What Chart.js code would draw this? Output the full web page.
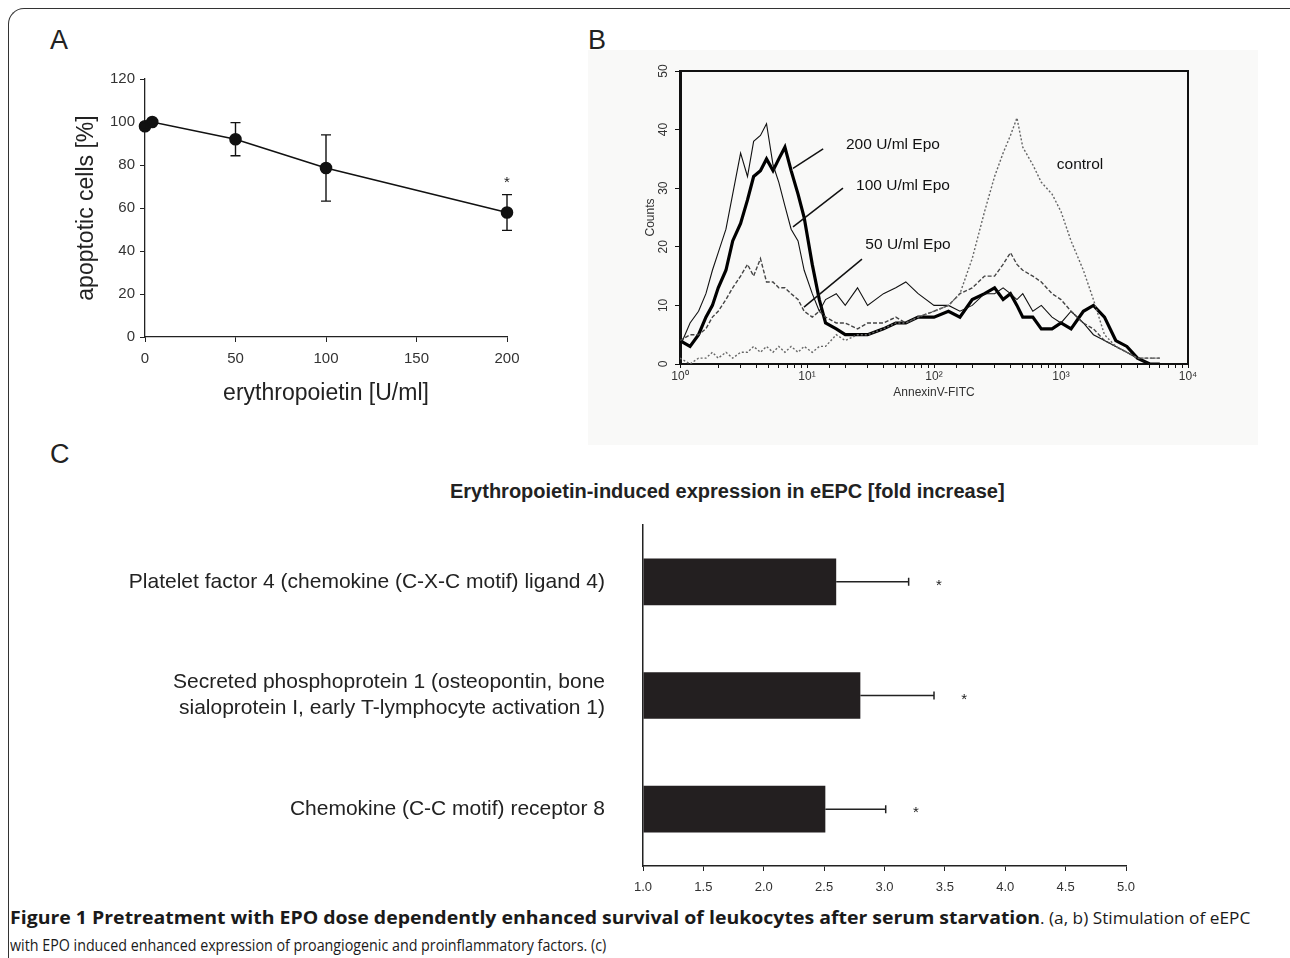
<!DOCTYPE html>
<html>
<head>
<meta charset="utf-8">
<script src="https://cdn.jsdelivr.net/npm/chart.js@4.4.0/dist/chart.umd.min.js"></script>
<style>
  body { margin: 0; width: 1290px; height: 958px; background: #fff; position: relative; overflow: hidden;
         font-family: "Liberation Sans", Arial, sans-serif; color: #222; }
  .frame { position: absolute; left: 8px; top: 8px; width: 1320px; height: 1000px;
           border-left: 1.5px solid #333; border-top: 1.5px solid #333; border-top-left-radius: 16px; }
  .lbl { position: absolute; font-size: 27px; line-height: 1; }
  .bgB { position: absolute; left: 588px; top: 50px; width: 670px; height: 395px; background: #f9f9f8; }
  canvas { position: absolute; }
  #titleC { position: absolute; left: 450px; top: 480px; white-space: nowrap;
            font-weight: bold; font-size: 20px; }
  .cap { position: absolute; white-space: nowrap; font-family: "Open Sans", sans-serif; font-size: 17px;
         line-height: 24px; transform-origin: 0 0; color: #1a1a1a; }
</style>
</head>
<body>
<div class="frame"></div>
<div class="bgB"></div>
<div class="lbl" style="left:50px;top:27px">A</div>
<div class="lbl" style="left:588px;top:27px">B</div>
<div class="lbl" style="left:50px;top:441px">C</div>

<canvas id="ca" width="520" height="370" style="left:20px;top:50px"></canvas>
<canvas id="cb" width="640" height="360" style="left:600px;top:55px"></canvas>
<div id="titleC">Erythropoietin-induced expression in eEPC [fold increase]</div>
<canvas id="cc" width="1060" height="400" style="left:100px;top:500px"></canvas>

<div class="cap" data-w="1030" style="left:10px;top:906px;font-weight:bold">Figure 1 Pretreatment with EPO dose dependently enhanced survival of leukocytes after serum starvation</div>
<div class="cap" data-w="210" style="left:1040px;top:906px">. (a, b) Stimulation of eEPC</div>
<div class="cap" data-w="596" style="left:10px;top:933px">with EPO induced enhanced expression of proangiogenic and proinflammatory factors. (c)</div>

<script>
// panel A: dose response
const doses = [0, 4, 50, 100, 200];
const apoptotic = [98, 100, 92, 78.6, 57.9];
const apoptoticSd = [1.5, 1, 7.7, 15.4, 8.3];

// panel B: AnnexinV-FITC histograms (bin centre, counts)
const bins = [1, 1.2, 1.4, 1.6, 1.8, 2, 2.3, 2.6, 3, 3.4, 3.8, 4.3, 4.8, 5.4, 6, 6.7, 7.5, 8.5, 9.5, 11,
  12.5, 14, 17, 20, 25, 30, 40, 50, 60, 75, 100, 130, 160, 200, 250, 300, 350, 400, 450, 500,
  600, 700, 850, 1000, 1200, 1500, 1800, 2200, 2700, 3300, 4000, 5000, 6000];
const epo200 = [4, 3, 5, 8, 10, 13, 16, 21, 24, 28, 32, 33, 35, 33, 35, 37, 33, 29, 25, 17,
  11, 7, 6, 5, 5, 5, 6, 7, 7, 8, 8, 9, 8, 11, 12, 13, 11, 12, 10, 8,
  8, 6, 6, 7, 6, 9, 10, 8, 4, 3, 1, 0, 0];
const epo100 = [3, 7, 9, 12, 16, 19, 23, 29, 36, 32, 38, 39, 41, 34, 31, 27, 23, 21, 16, 12,
  9, 11, 12, 10, 13, 10, 12, 13, 14, 12, 10, 10, 9, 10, 12, 12, 13, 12, 11, 12,
  9, 10, 8, 7, 9, 7, 5, 4, 3, 2, 1, 0, 0];
const epo50 = [4, 5, 5, 6, 8, 9, 11, 13, 15, 17, 15, 18, 14, 14, 13, 13, 12, 11, 9, 8,
  9, 8, 7, 7, 6, 7, 7, 8, 7, 8, 9, 10, 12, 13, 15, 15, 17, 19, 17, 16,
  15, 14, 12, 11, 9, 7, 6, 4, 3, 2, 1, 1, 1];
const control = [1, 0, 1, 1, 2, 1, 2, 1, 2, 2, 3, 2, 3, 2, 3, 2, 3, 2, 3, 2,
  3, 3, 5, 4, 5, 5, 6, 7, 7, 8, 9, 10, 12, 18, 26, 32, 36, 39, 42, 37,
  34, 31, 29, 26, 21, 16, 11, 5, 3, 2, 1, 1, 1];

// panel C: fold increase
const genes = [
  'Platelet factor 4 (chemokine (C-X-C motif) ligand 4)',
  ['Secreted phosphoprotein 1 (osteopontin, bone', 'sialoprotein I, early T-lymphocyte activation 1)'],
  'Chemokine (C-C motif) receptor 8'
];
const fold = [2.6, 2.8, 2.51];
const foldErr = [0.6, 0.61, 0.5];

Chart.defaults.font.family = '"Liberation Sans", Arial, sans-serif';
Chart.defaults.color = '#222';

const ink = '#222';
const supDigits = ['⁰', '¹', '²', '³', '⁴'];

// ---------- A ----------
const errBarsA = {
  id: 'errBarsA',
  afterDatasetsDraw(chart) {
    const { ctx, scales: { x, y } } = chart;
    ctx.save();
    ctx.strokeStyle = '#111';
    ctx.lineWidth = 1.4;
    doses.forEach((d, i) => {
      const px = x.getPixelForValue(d);
      const top = y.getPixelForValue(apoptotic[i] + apoptoticSd[i]);
      const bot = y.getPixelForValue(apoptotic[i] - apoptoticSd[i]);
      ctx.beginPath();
      ctx.moveTo(px, top); ctx.lineTo(px, bot);
      ctx.moveTo(px - 5, top); ctx.lineTo(px + 5, top);
      ctx.moveTo(px - 5, bot); ctx.lineTo(px + 5, bot);
      ctx.stroke();
    });
    // significance mark on the highest dose
    const last = doses.length - 1;
    ctx.fillStyle = '#222';
    ctx.font = '15px "Liberation Sans", Arial';
    ctx.textAlign = 'center';
    ctx.fillText('*', x.getPixelForValue(doses[last]), y.getPixelForValue(apoptotic[last] + apoptoticSd[last]) - 8);
    ctx.restore();
  }
};

new Chart(document.getElementById('ca'), {
  type: 'line',
  data: {
    datasets: [{
      data: doses.map((d, i) => ({ x: d, y: apoptotic[i] })),
      borderColor: '#111',
      borderWidth: 1.6,
      pointRadius: 5.5,
      pointBackgroundColor: '#111',
      pointBorderColor: '#111',
      tension: 0,
      clip: false
    }]
  },
  options: {
    responsive: false,
    animation: false,
    plugins: { legend: { display: false }, tooltip: { enabled: false } },
    layout: { padding: { top: 29, right: 33, left: 0, bottom: 0 } },
    scales: {
      x: {
        type: 'linear', min: 0, max: 200,
        afterFit: s => { s.height = 83; },
        ticks: { stepSize: 50, font: { size: 15 }, padding: 8, color: '#333' },
        grid: { drawOnChartArea: false, tickLength: 5, color: ink },
        border: { color: ink, width: 1.3 },
        title: { display: true, text: 'erythropoietin [U/ml]', font: { size: 23 }, color: '#222', padding: { top: 0, bottom: 13 } }
      },
      y: {
        min: 0, max: 120,
        afterFit: s => { s.width = 125; },
        ticks: { stepSize: 20, font: { size: 15 }, padding: 5, color: '#333' },
        grid: { drawOnChartArea: false, tickLength: 5, color: ink },
        border: { color: ink, width: 1.3 },
        title: { display: true, text: 'apoptotic cells [%]', font: { size: 23 }, color: '#222', padding: { top: 53, bottom: 0 } }
      }
    }
  },
  plugins: [errBarsA]
});

// ---------- B ----------
// label text and leader lines, in data units
const bNotes = [
  { text: '200 U/ml Epo', tx: 47.5, ty: 37.4, from: [7.76, 33.4], to: [13.4, 36.7] },
  { text: '100 U/ml Epo', tx: 57, ty: 30.5, from: [7.76, 23.4], to: [19.2, 30.0] },
  { text: '50 U/ml Epo', tx: 62.4, ty: 20.3, from: [9.47, 9.7], to: [27.1, 17.9] },
  { text: 'control', tx: 1412, ty: 34 }
];

const frameB = {
  id: 'frameB',
  afterDraw(chart) {
    const { ctx, chartArea: a, scales: { x, y } } = chart;
    ctx.save();
    ctx.strokeStyle = '#111';
    ctx.lineWidth = 2;
    ctx.beginPath();
    ctx.moveTo(a.left, a.top); ctx.lineTo(a.right, a.top); ctx.lineTo(a.right, a.bottom);
    ctx.stroke();
    // rotated y tick labels
    ctx.fillStyle = '#333';
    ctx.font = '12px "Liberation Sans", Arial';
    ctx.textAlign = 'center';
    ctx.textBaseline = 'middle';
    y.ticks.forEach(t => {
      ctx.save();
      ctx.translate(a.left - 16, y.getPixelForValue(t.value));
      ctx.rotate(-Math.PI / 2);
      ctx.fillText(String(t.value), 0, 0);
      ctx.restore();
    });
    // annotations
    ctx.fillStyle = '#111';
    ctx.font = '15.5px "Liberation Sans", Arial';
    ctx.lineWidth = 1.5;
    bNotes.forEach(n => {
      ctx.fillText(n.text, x.getPixelForValue(n.tx), y.getPixelForValue(n.ty));
      if (n.from) {
        ctx.beginPath();
        ctx.moveTo(x.getPixelForValue(n.from[0]), y.getPixelForValue(n.from[1]));
        ctx.lineTo(x.getPixelForValue(n.to[0]), y.getPixelForValue(n.to[1]));
        ctx.stroke();
      }
    });
    ctx.restore();
  }
};

const toPts = vals => bins.map((b, i) => ({ x: b, y: vals[i] }));

new Chart(document.getElementById('cb'), {
  type: 'line',
  data: {
    datasets: [
      { label: 'control', data: toPts(control), borderColor: '#666', borderWidth: 1.4, borderDash: [2, 2] },
      { label: '50 U/ml Epo', data: toPts(epo50), borderColor: '#444', borderWidth: 1.4, borderDash: [4, 2] },
      { label: '100 U/ml Epo', data: toPts(epo100), borderColor: '#111', borderWidth: 1.1 },
      { label: '200 U/ml Epo', data: toPts(epo200), borderColor: '#000', borderWidth: 3.2 }
    ]
  },
  options: {
    responsive: false,
    animation: false,
    plugins: { legend: { display: false }, tooltip: { enabled: false } },
    elements: { point: { radius: 0 }, line: { tension: 0 } },
    layout: { padding: { top: 16, right: 52, left: 0, bottom: 0 } },
    scales: {
      x: {
        type: 'logarithmic', min: 1, max: 10000,
        afterFit: s => { s.height = 51; },
        ticks: {
          autoSkip: false, maxRotation: 0, padding: 1, font: { size: 12 }, color: '#333',
          callback: v => {
            const e = Math.log10(v);
            return Math.abs(e - Math.round(e)) < 1e-9 ? '10' + supDigits[Math.round(e)] : '';
          }
        },
        grid: { drawOnChartArea: false, tickLength: 4, color: '#111' },
        border: { color: '#111', width: 2 },
        title: { display: true, text: 'AnnexinV-FITC', font: { size: 12 }, color: '#333', padding: { top: 0, bottom: 15 } }
      },
      y: {
        min: 0, max: 50,
        afterFit: s => { s.width = 80; },
        ticks: { stepSize: 10, display: false },
        grid: { drawOnChartArea: false, tickLength: 5, color: '#111' },
        border: { color: '#111', width: 3 },
        title: { display: true, text: 'Counts', font: { size: 12 }, color: '#333', padding: { top: 43, bottom: 0 } }
      }
    }
  },
  plugins: [frameB]
});

// ---------- C ----------
const errBarsC = {
  id: 'errBarsC',
  afterDatasetsDraw(chart) {
    const { ctx, scales: { x } } = chart;
    const bars = chart.getDatasetMeta(0).data;
    ctx.save();
    ctx.strokeStyle = '#222';
    ctx.lineWidth = 1.5;
    ctx.fillStyle = '#222';
    ctx.font = '15px "Liberation Sans", Arial';
    ctx.textAlign = 'center';
    ctx.textBaseline = 'middle';
    fold.forEach((v, i) => {
      const yy = bars[i].y;
      const x0 = x.getPixelForValue(v);
      const x1 = x.getPixelForValue(v + foldErr[i]);
      ctx.beginPath();
      ctx.moveTo(x0, yy); ctx.lineTo(x1, yy);
      ctx.moveTo(x1, yy - 4); ctx.lineTo(x1, yy + 4);
      ctx.stroke();
      ctx.fillText('*', x.getPixelForValue(v + foldErr[i] + 0.25), yy + 4);
    });
    ctx.restore();
  }
};

new Chart(document.getElementById('cc'), {
  type: 'bar',
  data: {
    labels: genes,
    datasets: [{
      data: fold,
      base: 1,
      backgroundColor: '#231f20',
      barPercentage: 0.41,
      categoryPercentage: 1
    }]
  },
  options: {
    indexAxis: 'y',
    responsive: false,
    animation: false,
    plugins: { legend: { display: false }, tooltip: { enabled: false } },
    layout: { padding: { top: 25, right: 34, left: 0, bottom: 0 } },
    scales: {
      x: {
        min: 1, max: 5,
        afterFit: s => { s.height = 34; },
        ticks: { stepSize: 0.5, font: { size: 13 }, padding: 9, color: '#333', callback: v => v.toFixed(1) },
        grid: { drawOnChartArea: false, tickLength: 5, color: ink },
        border: { color: ink, width: 1.5 }
      },
      y: {
        afterFit: s => { s.width = 543; },
        ticks: { font: { size: 21, lineHeight: 1.22 }, padding: 0, color: '#222' },
        // invisible tick marks give the gap between labels and axis
        grid: { drawOnChartArea: false, drawTicks: true, tickLength: 38, tickColor: 'rgba(0,0,0,0)' },
        border: { color: ink, width: 1.5 }
      }
    }
  },
  plugins: [errBarsC]
});

// squeeze caption pieces to the reference widths
document.querySelectorAll('.cap').forEach(el => {
  const w = el.scrollWidth;
  el.style.transform = 'scaleX(' + (Number(el.dataset.w) / w) + ')';
});
</script>
</body>
</html>
